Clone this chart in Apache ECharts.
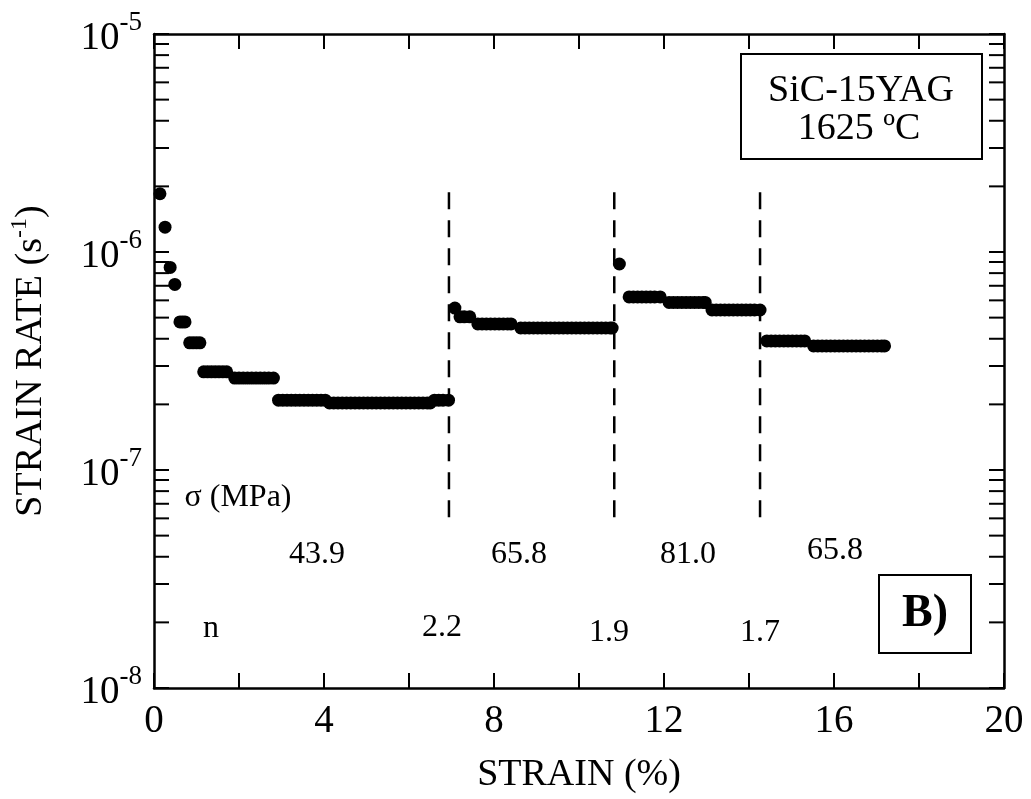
<!DOCTYPE html>
<html>
<head>
<meta charset="utf-8">
<script src="https://cdn.jsdelivr.net/npm/echarts@6/dist/echarts.min.js"></script>
<style>
  html, body { margin: 0; background: #fff; }
  #chart { width: 1031px; height: 799px; }
</style>
</head>
<body>
<div id="chart"></div>
<script>
const serif = 'Liberation Serif, Times New Roman, serif'

// strain (%) vs strain rate (1/s), one array per stress step
const stage439 = [
  [0.14, 1.85e-6], [0.26, 1.30e-6], [0.38, 8.5e-7], [0.49, 7.1e-7],
  [0.61, 4.78e-7], [0.67, 4.78e-7], [0.73, 4.78e-7],
  [0.84, 3.83e-7], [0.92, 3.83e-7], [1.00, 3.83e-7], [1.08, 3.83e-7],
  [1.17, 2.82e-7], [1.26, 2.82e-7], [1.35, 2.82e-7], [1.44, 2.82e-7], [1.53, 2.82e-7], [1.62, 2.82e-7], [1.71, 2.82e-7],
  [1.90, 2.64e-7], [2.00, 2.64e-7], [2.10, 2.64e-7], [2.20, 2.64e-7], [2.30, 2.64e-7], [2.40, 2.64e-7],
  [2.50, 2.64e-7], [2.60, 2.64e-7], [2.70, 2.64e-7], [2.81, 2.64e-7],
  [2.93, 2.09e-7], [3.03, 2.09e-7], [3.13, 2.09e-7], [3.23, 2.09e-7], [3.33, 2.09e-7], [3.43, 2.09e-7],
  [3.53, 2.09e-7], [3.63, 2.09e-7], [3.73, 2.09e-7], [3.83, 2.09e-7], [3.93, 2.09e-7], [4.03, 2.09e-7],
  [4.13, 2.03e-7], [4.23, 2.03e-7], [4.33, 2.03e-7], [4.43, 2.03e-7], [4.53, 2.03e-7], [4.63, 2.03e-7],
  [4.73, 2.03e-7], [4.83, 2.03e-7], [4.93, 2.03e-7], [5.03, 2.03e-7], [5.13, 2.03e-7], [5.23, 2.03e-7],
  [5.33, 2.03e-7], [5.43, 2.03e-7], [5.53, 2.03e-7], [5.63, 2.03e-7], [5.73, 2.03e-7], [5.83, 2.03e-7],
  [5.93, 2.03e-7], [6.03, 2.03e-7], [6.13, 2.03e-7], [6.23, 2.03e-7], [6.33, 2.03e-7], [6.43, 2.03e-7], [6.50, 2.03e-7],
  [6.60, 2.09e-7], [6.70, 2.09e-7], [6.80, 2.09e-7], [6.93, 2.09e-7]
]
const stage658a = [
  [7.08, 5.53e-7],
  [7.20, 5.04e-7], [7.30, 5.04e-7], [7.43, 5.04e-7],
  [7.62, 4.68e-7], [7.72, 4.68e-7], [7.82, 4.68e-7], [7.92, 4.68e-7], [8.02, 4.68e-7],
  [8.12, 4.68e-7], [8.22, 4.68e-7], [8.32, 4.68e-7], [8.40, 4.68e-7],
  [8.63, 4.48e-7], [8.73, 4.48e-7], [8.83, 4.48e-7], [8.93, 4.48e-7], [9.03, 4.48e-7], [9.13, 4.48e-7],
  [9.23, 4.48e-7], [9.33, 4.48e-7], [9.43, 4.48e-7], [9.53, 4.48e-7], [9.63, 4.48e-7], [9.73, 4.48e-7],
  [9.83, 4.48e-7], [9.93, 4.48e-7], [10.03, 4.48e-7], [10.13, 4.48e-7], [10.23, 4.48e-7], [10.33, 4.48e-7],
  [10.43, 4.48e-7], [10.53, 4.48e-7], [10.63, 4.48e-7], [10.73, 4.48e-7], [10.78, 4.48e-7]
]
const stage810 = [
  [10.95, 8.81e-7],
  [11.18, 6.22e-7], [11.28, 6.22e-7], [11.38, 6.22e-7], [11.48, 6.22e-7], [11.58, 6.22e-7],
  [11.68, 6.22e-7], [11.78, 6.22e-7], [11.91, 6.22e-7],
  [12.12, 5.87e-7], [12.22, 5.87e-7], [12.32, 5.87e-7], [12.42, 5.87e-7], [12.52, 5.87e-7],
  [12.62, 5.87e-7], [12.72, 5.87e-7], [12.82, 5.87e-7], [12.92, 5.87e-7], [12.97, 5.87e-7],
  [13.13, 5.42e-7], [13.23, 5.42e-7], [13.33, 5.42e-7], [13.43, 5.42e-7], [13.53, 5.42e-7], [13.63, 5.42e-7],
  [13.73, 5.42e-7], [13.83, 5.42e-7], [13.93, 5.42e-7], [14.03, 5.42e-7], [14.13, 5.42e-7], [14.26, 5.42e-7]
]
const stage658b = [
  [14.42, 3.91e-7], [14.52, 3.91e-7], [14.62, 3.91e-7], [14.72, 3.91e-7], [14.82, 3.91e-7],
  [14.92, 3.91e-7], [15.02, 3.91e-7], [15.12, 3.91e-7], [15.22, 3.91e-7], [15.31, 3.91e-7],
  [15.52, 3.71e-7], [15.62, 3.71e-7], [15.72, 3.71e-7], [15.82, 3.71e-7], [15.92, 3.71e-7], [16.02, 3.71e-7],
  [16.12, 3.71e-7], [16.22, 3.71e-7], [16.32, 3.71e-7], [16.42, 3.71e-7], [16.52, 3.71e-7], [16.62, 3.71e-7],
  [16.72, 3.71e-7], [16.82, 3.71e-7], [16.92, 3.71e-7], [17.02, 3.71e-7], [17.12, 3.71e-7], [17.19, 3.71e-7]
]

// stress changes (dashed lines)
const stressChanges = [6.94, 10.83, 14.26]
const dashTop = 1.88e-6
const dashBottom = 5.9e-8

// log minor ticks 2..9 in each decade
const decades = [1e-8, 1e-7, 1e-6]
const minorTicks = []
decades.forEach(d => { for (let k = 2; k <= 9; k++) minorTicks.push([0, k * d]) })

const stressLabels = ['43.9', '65.8', '81.0', '65.8']
const nLabels = ['2.2', '1.9', '1.7']

const chart = echarts.init(document.getElementById('chart'))

const tickStyle = { show: true, inside: true, length: 15, lineStyle: { color: '#000', width: 2 } }
const lineStyle = { show: true, onZero: false, lineStyle: { color: '#000', width: 2.5 } }

const supRich = {
  b: { fontFamily: serif, fontSize: 39, color: '#000', verticalAlign: 'bottom' },
  s: { fontFamily: serif, fontSize: 27, color: '#000', verticalAlign: 'bottom', padding: [0, 0, 22, 0] }
}

const dots = (data) => ({
  type: 'scatter',
  data,
  symbol: 'circle',
  symbolSize: 13,
  itemStyle: { color: '#000', opacity: 1 },
  z: 5
})

const txt = (text, x, y, size, extra) => ({
  type: 'text',
  x, y,
  style: Object.assign({
    text, fill: '#000', font: size + 'px ' + serif,
    textAlign: 'center', textVerticalAlign: 'middle', align: 'center', verticalAlign: 'middle'
  }, extra || {})
})

chart.setOption({
  animation: false,
  grid: { left: 152, right: 27, top: 34, bottom: 111 },
  xAxis: [
    {
      type: 'value', min: 0, max: 20, interval: 2, position: 'bottom',
      axisLine: lineStyle, axisTick: tickStyle, splitLine: { show: false },
      axisLabel: {
        margin: 14, fontFamily: serif, fontSize: 39, color: '#000',
        formatter: v => (v % 4 === 0 ? String(v) : '')
      },
      name: 'STRAIN (%)', nameLocation: 'middle', nameGap: 68,
      nameTextStyle: { fontFamily: serif, fontSize: 38, color: '#000' }
    },
    {
      type: 'value', min: 0, max: 20, interval: 2, position: 'top',
      axisLine: lineStyle, axisTick: tickStyle, splitLine: { show: false },
      axisLabel: { show: false }
    }
  ],
  yAxis: [
    {
      type: 'log', logBase: 10, min: 1e-8, max: 1e-5, position: 'left',
      axisLine: lineStyle, axisTick: tickStyle, splitLine: { show: false },
      axisLabel: {
        margin: 12,
        formatter: v => '{b|10}{s|' + Math.round(Math.log10(v)) + '}',
        rich: supRich
      },
      name: '{t|STRAIN RATE (s}{s|-1}{t|)}', nameLocation: 'middle', nameGap: 104, nameRotate: 90,
      nameTextStyle: {
        rich: {
          t: { fontFamily: serif, fontSize: 38, color: '#000', verticalAlign: 'bottom' },
          s: { fontFamily: serif, fontSize: 24, color: '#000', verticalAlign: 'bottom', padding: [0, 0, 18, 0] }
        }
      }
    },
    {
      type: 'log', logBase: 10, min: 1e-8, max: 1e-5, position: 'right',
      axisLine: lineStyle, axisTick: tickStyle, splitLine: { show: false },
      axisLabel: { show: false }
    }
  ],
  series: [
    {
      type: 'custom',
      data: minorTicks,
      encode: { x: 0, y: 1 },
      silent: true,
      clip: false,
      z: 6,
      renderItem: (params, api) => {
        const v = api.value(1)
        const l = api.coord([0, v])
        const r = api.coord([20, v])
        return {
          type: 'group',
          children: [
            { type: 'line', shape: { x1: l[0], y1: l[1], x2: l[0] + 15, y2: l[1] }, style: { stroke: '#000', lineWidth: 2 } },
            { type: 'line', shape: { x1: r[0] - 15, y1: r[1], x2: r[0], y2: r[1] }, style: { stroke: '#000', lineWidth: 2 } }
          ]
        }
      }
    },
    ...stressChanges.map(x => ({
      type: 'line',
      data: [[x, dashTop], [x, dashBottom]],
      symbol: 'none',
      silent: true,
      lineStyle: { color: '#000', width: 2.5, type: [17, 11] },
      z: 3
    })),
    dots(stage439),
    dots(stage658a),
    dots(stage810),
    dots(stage658b)
  ],
  graphic: [
    { type: 'rect', shape: { x: 741, y: 54, width: 241, height: 105 }, style: { fill: '#fff', stroke: '#000', lineWidth: 2 } },
    txt('SiC-15YAG', 861, 91, 38),
    txt('1625 ºC', 859, 129, 38),
    txt('σ (MPa)', 238, 498, 32),
    txt(stressLabels[0], 317, 555, 32),
    txt(stressLabels[1], 519, 555, 32),
    txt(stressLabels[2], 688, 555, 32),
    txt(stressLabels[3], 835, 551, 32),
    txt('n', 211, 629, 32),
    txt(nLabels[0], 442, 628, 32),
    txt(nLabels[1], 609, 633, 32),
    txt(nLabels[2], 760, 633, 32),
    { type: 'rect', shape: { x: 879, y: 575, width: 92, height: 78 }, style: { fill: '#fff', stroke: '#000', lineWidth: 2 } },
    txt('B)', 925, 614, 46, { font: 'bold 46px ' + serif })
  ]
})
</script>
</body>
</html>
